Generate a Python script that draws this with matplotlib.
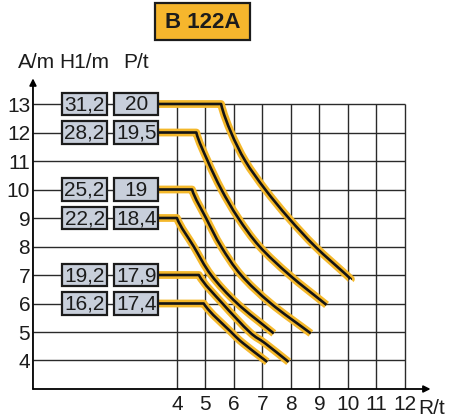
import matplotlib
matplotlib.use("Agg")
import matplotlib.pyplot as plt
from matplotlib.patches import Rectangle, PathPatch
from matplotlib.path import Path

# ---- data ----
levels_A = [13, 12, 10, 9, 7, 6]                       # A/m
labels_H1 = ["31,2", "28,2", "25,2", "22,2", "19,2", "16,2"]
labels_P = ["20", "19,5", "19", "18,4", "17,9", "17,4"]

# load curves: radius R (t) vs height (m)
curve1_R = [5.55, 5.9, 6.4, 7.1, 7.92, 8.85, 9.95, 10.1]
curve1_A = [13, 12, 11, 10, 9, 8, 7, 6.85]
curve2_R = [4.68, 5.08, 5.56, 6.15, 6.9, 7.95, 9.25]
curve2_A = [12, 11, 10, 9, 8, 7, 5.95]
curve3_R = [4.53, 5.02, 5.55, 6.25, 7.3, 8.7]
curve3_A = [10, 9, 8, 7, 6, 4.95]
curve4_R = [4.0, 4.59, 5.2, 6.12, 7.4]
curve4_A = [9, 8, 7, 6, 4.95]
curve5_R = [4.77, 5.6, 6.55, 7.1, 7.92]
curve5_A = [7, 6, 5, 4.6, 3.95]
curve6_R = [4.94, 5.9, 6.33, 7.17]
curve6_A = [6, 5, 4.6, 3.95]

curves_R = [curve1_R, curve2_R, curve3_R, curve4_R, curve5_R, curve6_R]
curves_A = [curve1_A, curve2_A, curve3_A, curve4_A, curve5_A, curve6_A]

x_ticks = [4, 5, 6, 7, 8, 9, 10, 11, 12]
y_ticks = [4, 5, 6, 7, 8, 9, 10, 11, 12, 13]

# ---- style ----
NARROW = ["Liberation Sans Narrow", "Liberation Sans", "DejaVu Sans"]
YELLOW = "#F4B82B"
BOXFILL = "#C8CFDB"
DARK = "#1c1c1c"
FS = 15

fig = plt.figure(figsize=(4.53, 4.19), dpi=100)
ax = fig.add_axes([0.0728, 0.0716, 0.9505 - 0.0728, 0.813 - 0.0716])
x0, x1, y0, y1 = -1.05, 12.9, 3.0, 13.9
ax.set_xlim(x0, x1)
ax.set_ylim(y0, y1)
for s in ax.spines.values():
    s.set_visible(False)

# grid
ax.hlines(y_ticks, x0, x_ticks[-1], color="#2a2a2a", lw=1.0, zorder=1)
ax.vlines(x_ticks, y0, y_ticks[-1], color="#2a2a2a", lw=1.0, zorder=1)

# axes with arrows
ax.annotate("", xy=(x0, y1), xytext=(x0, y0),
            arrowprops=dict(arrowstyle="-|>", lw=1.3, color="k",
                            mutation_scale=10, shrinkA=0, shrinkB=0),
            annotation_clip=False, zorder=5)
ax.annotate("", xy=(x1, y0), xytext=(x0, y0),
            arrowprops=dict(arrowstyle="-|>", lw=1.3, color="k",
                            mutation_scale=10, shrinkA=0, shrinkB=0),
            annotation_clip=False, zorder=5)

ax.set_xticks(x_ticks)
ax.set_xticklabels([str(v) for v in x_ticks], family=NARROW, fontsize=FS, color=DARK)
ax.set_yticks(y_ticks)
ax.set_yticklabels([str(v) for v in y_ticks], family=NARROW, fontsize=FS, color=DARK)
ax.tick_params(axis="x", length=0, pad=4)
ax.tick_params(axis="y", length=0, pad=2)

# boxes
bh = 0.78
b1 = (-0.015, 1.536)
b2 = (1.80, 3.34)
for a, h1, p in zip(levels_A, labels_H1, labels_P):
    for (bx0, bx1), txt in ((b1, h1), (b2, p)):
        ax.add_patch(Rectangle((bx0, a - bh / 2), bx1 - bx0, bh, facecolor=BOXFILL,
                               edgecolor=DARK, lw=1.6, zorder=4))
        ax.text((bx0 + bx1) / 2, a - 0.02, txt, ha="center", va="center",
                family=NARROW, fontsize=FS, color=DARK, zorder=5)


def smooth_path(start_x, pts_x, pts_y, level):
    """Horizontal run from the box to the knee, then a Catmull-Rom curve
    (rendered as cubic Bezier segments) through the read points."""
    verts = [(start_x, level), (pts_x[0], pts_y[0])]
    codes = [Path.MOVETO, Path.LINETO]
    n = len(pts_x)
    P = list(zip(pts_x, pts_y))
    for i in range(n - 1):
        p0 = P[i - 1] if i > 0 else (P[0][0] - (P[1][0] - P[0][0]) * 0.6, P[0][1] + (P[0][1] - P[1][1]))
        p1, p2 = P[i], P[i + 1]
        p3 = P[i + 2] if i + 2 < n else (2 * p2[0] - p1[0], 2 * p2[1] - p1[1])
        if i == 0:
            p0 = (p1[0] - (p2[0] - p1[0]) * 0.3, p1[1] + (p1[1] - p2[1]))
        c1 = (p1[0] + (p2[0] - p0[0]) / 6, p1[1] + (p2[1] - p0[1]) / 6)
        c2 = (p2[0] - (p3[0] - p1[0]) / 6, p2[1] - (p3[1] - p1[1]) / 6)
        verts += [c1, c2, p2]
        codes += [Path.CURVE4] * 3
    return Path(verts, codes)


# curves
for a, rr, aa in zip(levels_A, curves_R, curves_A):
    path = smooth_path(b2[1], rr, aa, a)
    ax.add_patch(PathPatch(path, facecolor="none", edgecolor=YELLOW, lw=5.6,
                           capstyle="butt", joinstyle="round", zorder=3))
    ax.add_patch(PathPatch(path, facecolor="none", edgecolor="#141414", lw=1.9,
                           capstyle="butt", joinstyle="round", zorder=3.5))

# header labels
ax.text(-0.91, 14.47, "A/m", ha="center", va="center", family=NARROW,
        fontsize=FS, color=DARK, clip_on=False)
ax.text((b1[0] + b1[1]) / 2, 14.47, "H1/m", ha="center", va="center", family=NARROW,
        fontsize=FS, color=DARK, clip_on=False)
ax.text((b2[0] + b2[1]) / 2, 14.47, "P/t", ha="center", va="center", family=NARROW,
        fontsize=FS, color=DARK, clip_on=False)
ax.text(12.95, 2.33, "R/t", ha="center", va="center", family=NARROW,
        fontsize=FS, color=DARK, clip_on=False)

# title box
fig.patches.append(Rectangle((155 / 453, 1 - 40 / 419), 95 / 453, 37 / 419,
                             transform=fig.transFigure, facecolor="#F6B62D",
                             edgecolor=DARK, lw=1.6))
fig.text(202.5 / 453, 1 - 22 / 419, "B 122A", ha="center", va="center",
         family=["Liberation Sans", "DejaVu Sans"], fontweight="bold",
         fontsize=16, color=DARK)

fig.savefig("out.png", dpi=100)
